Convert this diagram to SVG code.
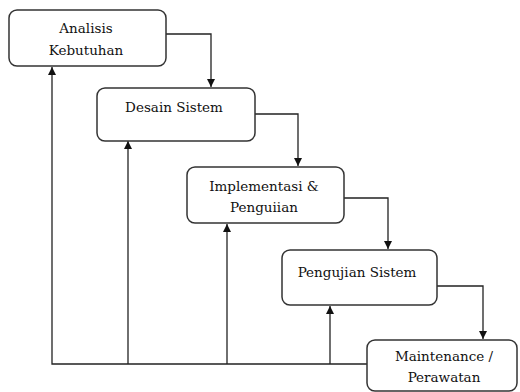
<svg xmlns="http://www.w3.org/2000/svg" width="520" height="392" viewBox="0 0 520 392">
<defs>
<marker id="arr" viewBox="0 0 10 10" refX="10" refY="5" markerWidth="8" markerHeight="8" markerUnits="userSpaceOnUse" orient="auto">
<path d="M0,0 L10,5 L0,10 z" fill="#111"/>
</marker>
<style>
.box{fill:#fff;stroke:#333;stroke-width:1.5}
.lbl{font-family:"DejaVu Serif","Liberation Serif",serif;font-size:13.5px;fill:#111;text-anchor:middle}
.con{fill:none;stroke:#222;stroke-width:1.3}
</style>
</defs>
<rect width="520" height="392" fill="#fff"/>
<g id="connectors">
<path class="con" d="M166,34 H211 V87" marker-end="url(#arr)"/>
<path class="con" d="M255,114 H298 V166" marker-end="url(#arr)"/>
<path class="con" d="M344,198 H388 V249" marker-end="url(#arr)"/>
<path class="con" d="M437,286 H483 V339" marker-end="url(#arr)"/>
<path class="con" d="M367,364 H52 V67" marker-end="url(#arr)"/>
<path class="con" d="M128,364 V141" marker-end="url(#arr)"/>
<path class="con" d="M227,364 V224" marker-end="url(#arr)"/>
<path class="con" d="M330,364 V306" marker-end="url(#arr)"/>
</g>
<g id="analisis">
<rect class="box" x="9" y="10" width="157" height="56" rx="8"/>
<text class="lbl" x="86" y="33">Analisis</text>
<text class="lbl" x="86" y="55">Kebutuhan</text>
</g>
<g id="desain">
<rect class="box" x="97" y="88" width="158" height="53" rx="8"/>
<text class="lbl" x="174" y="112">Desain Sistem</text>
</g>
<g id="implementasi">
<rect class="box" x="187" y="167" width="157" height="56" rx="8"/>
<text class="lbl" x="264" y="191">Implementasi &amp;</text>
<text class="lbl" x="264" y="212">Penguiian</text>
</g>
<g id="pengujian">
<rect class="box" x="282" y="250" width="155" height="55" rx="8"/>
<text class="lbl" x="357" y="277">Pengujian Sistem</text>
</g>
<g id="maintenance">
<rect class="box" x="367" y="340" width="150" height="51" rx="8"/>
<text class="lbl" x="444" y="361">Maintenance /</text>
<text class="lbl" x="444" y="382">Perawatan</text>
</g>
</svg>
